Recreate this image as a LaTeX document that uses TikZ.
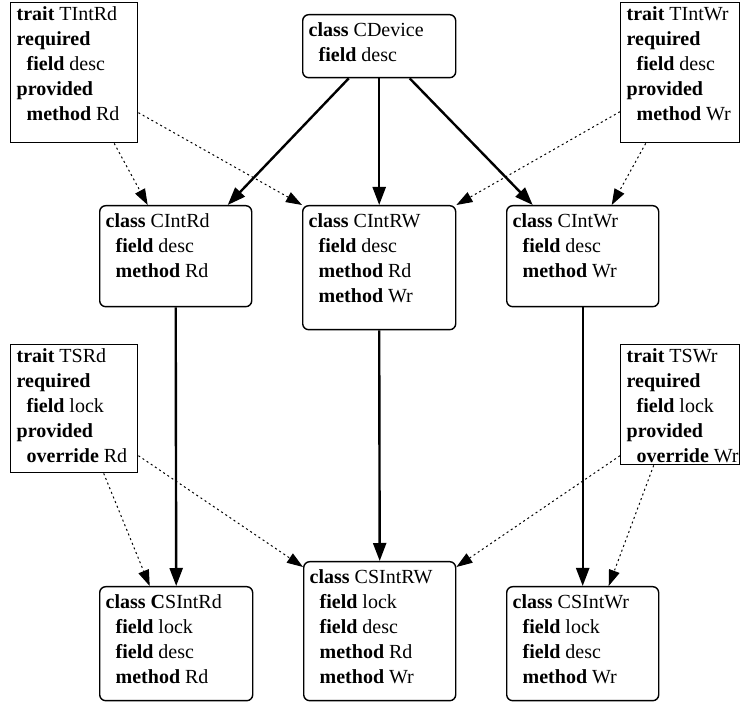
\documentclass[tikz,border=0pt]{standalone}
\usepackage{fontspec}
\setmainfont{Liberation Serif}
\newfontfamily\tms{Liberation Serif}
\usepackage{tikz}
\usetikzlibrary{arrows.meta}
\tikzset{>={Triangle[length=8pt,width=5.5pt]}}
\tikzstyle{cls}=[draw,line width=0.7pt,rounded corners=3pt,anchor=north west,inner xsep=3pt,inner ysep=2pt,font=\tms\fontsize{10}{12.5}\selectfont]
\tikzstyle{trt}=[draw,line width=0.7pt,anchor=north west,inner xsep=3pt,inner ysep=0pt,font=\tms\fontsize{10}{12.5}\selectfont]
\tikzstyle{inherit}=[-{Triangle[length=9pt,width=6.5pt]},line width=1.2pt]
\tikzstyle{uses}=[->,line width=0.5pt,dash pattern=on 1pt off 1.5pt]
\newcommand{\boxlines}[3]{\parbox[t][#2][t]{#1}{\raggedright\strut #3}}
\def\ind{\hspace*{5pt}}

\begin{document}
\begin{tikzpicture}[x=0.5pt,y=-0.5pt]
  \useasboundingbox (0,0) rectangle (740,705);

  % TRAITS
  \node[trt] (tIntRd) at (10,2)  {\boxlines{57.5pt}{70pt}{\textbf{trait} TIntRd\\\textbf{required}\\\ind\textbf{field} desc\\\textbf{provided}\\\ind\textbf{method} Rd}};
  \node[trt] (tIntWr) at (620,2) {\boxlines{53.5pt}{70pt}{\textbf{trait} TIntWr\\\textbf{required}\\\ind\textbf{field} desc\\\textbf{provided}\\\ind\textbf{method} Wr}};
  \node[trt] (tSRd) at (10,344)  {\boxlines{57.5pt}{64pt}{\textbf{trait} TSRd\\\textbf{required}\\\ind\textbf{field} lock\\\textbf{provided}\\\ind\textbf{override} Rd}};
  \node[trt] (tSWr) at (620,344) {\boxlines{53.5pt}{60pt}{\textbf{trait} TSWr\\\textbf{required}\\\ind\textbf{field} lock\\\textbf{provided}\\\ind\mbox{\textbf{override} Wr}}};

  % CLASSES
  \node[cls] (cDevice) at (302,14) {\boxlines{70.5pt}{27.5pt}{\textbf{class} CDevice\\\ind\textbf{field} desc}};
  \node[cls] (cIntRd) at (99,205)  {\boxlines{70pt}{46.5pt}{\textbf{class} CIntRd\\\ind\textbf{field} desc\\\ind\textbf{method} Rd}};
  \node[cls] (cIntRW) at (302,205) {\boxlines{70.5pt}{58pt}{\textbf{class} CIntRW\\\ind\textbf{field} desc\\\ind\textbf{method} Rd\\\ind\textbf{method} Wr}};
  \node[cls] (cIntWr) at (506,205) {\boxlines{70pt}{46.5pt}{\textbf{class} CIntWr\\\ind\textbf{field} desc\\\ind\textbf{method} Wr}};
  \node[cls] (csIntRd) at (99,586)  {\boxlines{70.5pt}{53pt}{\textbf{class C}SIntRd\\\ind\textbf{field} lock\\\ind\textbf{field} desc\\\ind\textbf{method} Rd}};
  \node[cls] (csIntRW) at (303,561) {\boxlines{70pt}{65.5pt}{\textbf{class} CSIntRW\\\ind\textbf{field} lock\\\ind\textbf{field} desc\\\ind\textbf{method} Rd\\\ind\textbf{method} Wr}};
  \node[cls] (csIntWr) at (506,586) {\boxlines{70pt}{53pt}{\textbf{class} CSIntWr\\\ind\textbf{field} lock\\\ind\textbf{field} desc\\\ind\textbf{method} Wr}};

  % INHERITANCE
  \draw[inherit] ([xshift=-15.25pt]cDevice.south) -- ([xshift=26pt]cIntRd.north);
  \draw[inherit] (cDevice.south) -- (cIntRW.north);
  \draw[inherit] ([xshift=15.25pt]cDevice.south) -- ([xshift=-25pt]cIntWr.north);
  \draw[inherit] (cIntRd.south) -- (csIntRd.north);
  \draw[inherit] (cIntRW.south) -- (csIntRW.north);
  \draw[inherit] (cIntWr.south) -- (csIntWr.north);

  % TRAIT USE
  \draw[uses] ([xshift=20pt]tIntRd.south) -- ([xshift=-14pt]cIntRd.north);
  \draw[uses] ([yshift=-20pt]tIntRd.east) -- (cIntRW.north west);
  \draw[uses] ([yshift=-19.5pt]tIntWr.west) -- (cIntRW.north east);
  \draw[uses] ([xshift=-17.25pt]tIntWr.south) -- ([xshift=14.5pt]cIntWr.north);
  \draw[uses] ([xshift=14.75pt]tSRd.south) -- ([xshift=-13.25pt]csIntRd.north);
  \draw[uses] ([yshift=-23.5pt]tSRd.east) -- ([yshift=-3pt]csIntRW.north west);
  \draw[uses] ([yshift=-25.5pt]tSWr.west) -- ([yshift=-3pt]csIntRW.north east);
  \draw[uses] ([xshift=-13.25pt]tSWr.south) -- ([xshift=13pt]csIntWr.north);

\end{tikzpicture}
\end{document}
